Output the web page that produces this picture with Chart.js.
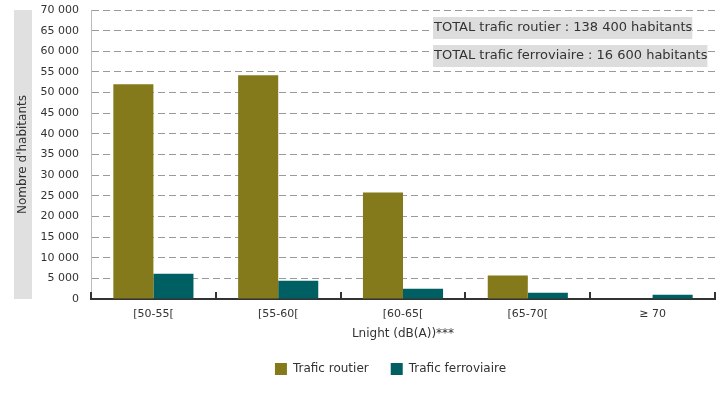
<!DOCTYPE html>
<html>
<head>
<meta charset="utf-8">
<script src="https://cdn.jsdelivr.net/npm/chart.js@4/dist/chart.umd.min.js"></script>
<style>
  html, body { margin: 0; padding: 0; background: #fff; }
  #wrap { width: 725px; height: 400px; position: relative; }
</style>
</head>
<body>
<div id="wrap"><canvas id="chart"></canvas></div>
<script>
// ================== Data ==================
const categories = ["[50-55[", "[55-60[", "[60-65[", "[65-70[", "≥ 70"];
const routier = [52000, 54200, 25800, 5700, 0];
const ferroviaire = [6100, 4400, 2500, 1500, 1000];
const totals = [
  "TOTAL trafic routier : 138 400 habitants",
  "TOTAL trafic ferroviaire : 16 600 habitants",
];
const yTitle = "Nombre d'habitants";
const xTitle = "Lnight (dB(A))***";

const FONT = "'DejaVu Sans', sans-serif";
const TEXT = "#333333";

const fmt = (v) => String(v).replace(/\B(?=(\d{3})+(?!\d))/g, " ");

// ================== Plugins ==================
// grey box with the rotated y title, category tick marks, total labels
const extras = {
  id: "extras",
  afterLayout(chart) {
    // legend is centred a bit right of the canvas centre
    chart.legend.left += 33;
    chart.legend.right += 33;
  },
  afterDraw(chart) {
    const { ctx, chartArea, scales } = chart;
    const x = scales.x;

    // y title box
    ctx.save();
    ctx.fillStyle = "#e0e0e0";
    ctx.fillRect(14, chartArea.top, 18, chartArea.bottom - chartArea.top);
    ctx.translate(23, (chartArea.top + chartArea.bottom) / 2);
    ctx.rotate(-Math.PI / 2);
    ctx.fillStyle = TEXT;
    ctx.font = "12px " + FONT;
    ctx.textAlign = "center";
    ctx.textBaseline = "middle";
    ctx.fillText(yTitle, 0, 0);
    ctx.restore();

    // category separators on the x axis
    ctx.save();
    ctx.strokeStyle = "#333";
    ctx.lineWidth = 2;
    const n = categories.length;
    const step = (x.right - x.left) / n;
    for (let i = 0; i <= n; i++) {
      const px = Math.round(x.left + i * step);
      ctx.beginPath();
      ctx.moveTo(px, chartArea.bottom - 7);
      ctx.lineTo(px, chartArea.bottom + 1);
      ctx.stroke();
    }
    ctx.restore();

    // totals
    ctx.save();
    ctx.font = "13px " + FONT;
    ctx.textBaseline = "middle";
    totals.forEach((t, i) => {
      const w = ctx.measureText(t).width;
      const top = 17 + i * 28;
      ctx.fillStyle = "#dddddd";
      ctx.fillRect(433, top, w + 1, 22);
      ctx.fillStyle = TEXT;
      ctx.fillText(t, 434, top + 11);
    });
    ctx.restore();
  },
};

// ================== Chart ==================
const ctx = document.getElementById("chart").getContext("2d");
new Chart(ctx, {
  type: "bar",
  data: {
    labels: categories,
    datasets: [
      { label: "Trafic routier", data: routier, backgroundColor: "#84791b" },
      { label: "Trafic ferroviaire", data: ferroviaire, backgroundColor: "#005f62" },
    ],
  },
  options: {
    responsive: true,
    maintainAspectRatio: false,
    animation: false,
    layout: { padding: { top: 10, right: 10, bottom: 15, left: 0 } },
    datasets: { bar: { categoryPercentage: 0.642, barPercentage: 1.0 } },
    plugins: {
      legend: {
        position: "bottom",
        labels: {
          color: TEXT,
          font: { family: FONT, size: 12 },
          boxWidth: 12,
          boxHeight: 12,
          padding: 22,
        },
      },
      tooltip: { enabled: false },
    },
    scales: {
      x: {
        grid: { display: false, drawTicks: false },
        border: { display: true, color: "#333", width: 2 },
        ticks: { color: TEXT, font: { family: FONT, size: 11 }, padding: 9 },
        title: {
          display: true,
          text: xTitle,
          color: TEXT,
          font: { family: FONT, size: 12 },
          padding: { top: 5, bottom: 0 },
        },
        afterFit: (s) => { s.height = 42; },
      },
      y: {
        min: 0,
        max: 70000,
        ticks: {
          stepSize: 5000,
          color: TEXT,
          font: { family: FONT, size: 11 },
          padding: 12,
          callback: (v) => fmt(v),
        },
        grid: { color: "#9a9a9a", lineWidth: 1, drawTicks: false },
        border: { display: true, color: "#bbb", dash: [7, 4] },
        afterFit: (s) => {
          s.width = 91;
          s.paddingTop = 0;
          s.paddingBottom = 0;
        },
      },
    },
  },
  plugins: [extras],
});
</script>
</body>
</html>
